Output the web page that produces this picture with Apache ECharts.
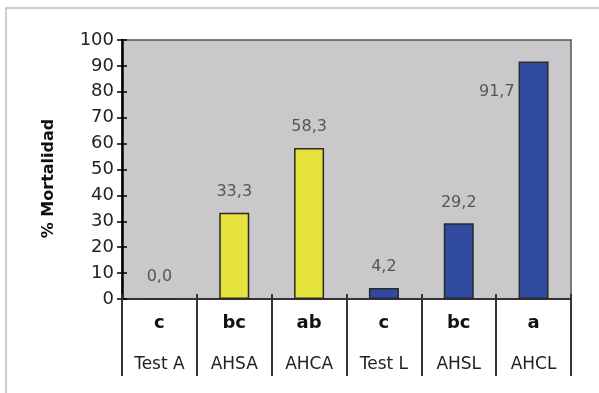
<!DOCTYPE html>
<html><head><meta charset="utf-8">
<script src="https://cdn.jsdelivr.net/npm/echarts@6/dist/echarts.min.js"></script>
<style>html,body{margin:0;padding:0;background:#fff}#c{width:599px;height:393px}</style>
</head><body><div id="c"></div>
<script>
const categories = ['Test A', 'AHSA', 'AHCA', 'Test L', 'AHSL', 'AHCL'];
const letters = ['c', 'bc', 'ab', 'c', 'bc', 'a'];
const values = [0.0, 33.3, 58.3, 4.2, 29.2, 91.7];
const groups = ['A', 'A', 'A', 'L', 'L', 'L'];
const valueLabels = ['0,0', '33,3', '58,3', '4,2', '29,2', '91,7'];
const yTicks = [0, 10, 20, 30, 40, 50, 60, 70, 80, 90, 100];

const groupColor = { A: '#e6e23c', L: '#2f4a9e' };
const FONT = 'DejaVu Sans';

const chart = echarts.init(document.getElementById('c'), null, { renderer: 'canvas' });
chart.setOption({
  animation: false,
  backgroundColor: '#fff',
  graphic: [{
    type: 'rect', shape: { x: 6, y: 8, width: 700, height: 500 },
    style: { fill: 'none', stroke: '#bdbdbd', lineWidth: 1.5 }, z: -10
  }],
  grid: {
    left: 122, right: 28, top: 40, bottom: 94,
    show: true, backgroundColor: '#c9c9cb', borderColor: '#555', borderWidth: 1.5
  },
  xAxis: [{
    type: 'category', data: categories,
    axisLine: { lineStyle: { color: '#333', width: 2 } },
    axisTick: { show: true, length: 77, lineStyle: { color: '#333', width: 2 } },
    axisLabel: {
      margin: 4, interval: 0,
      formatter: (v, i) => '{l|' + letters[i] + '}\n{n|' + v + '}',
      rich: {
        l: { fontFamily: FONT, fontWeight: 'bold', fontSize: 18, color: '#111', lineHeight: 41 },
        n: { fontFamily: FONT, fontSize: 17, color: '#222', lineHeight: 41 }
      }
    }
  }, {
    type: 'category', data: categories, position: 'bottom', offset: 0,
    axisLine: { show: false },
    axisTick: { show: true, inside: true, length: 5, lineStyle: { color: '#333', width: 2 } },
    axisLabel: { show: false }
  }],
  yAxis: [{
    type: 'value', min: 0, max: 100, interval: 10,
    name: '% Mortalidad', nameLocation: 'middle', nameGap: 65,
    nameTextStyle: { fontFamily: FONT, fontWeight: 'bold', fontSize: 16, color: '#111',
      padding: [0, 18, 0, 0] },
    axisLine: { show: true, lineStyle: { color: '#000', width: 2.5 } },
    axisTick: { show: true, length: 5, lineStyle: { color: '#000', width: 1.5 } },
    axisLabel: { fontFamily: FONT, fontSize: 18, color: '#222', margin: 8,
      formatter: v => yTicks.includes(v) ? String(v) : '' },
    splitLine: { show: false }
  }, {
    type: 'value', min: 0, max: 100, interval: 10, position: 'left', offset: 0,
    axisLine: { show: false },
    axisTick: { show: true, inside: true, length: 5, lineStyle: { color: '#000', width: 1.5 } },
    axisLabel: { show: false }, splitLine: { show: false }
  }],
  series: [{
    type: 'bar', barWidth: 30, xAxisIndex: 0, yAxisIndex: 0,
    data: values.map((v, i) => {
      const d = {
        value: v,
        itemStyle: { color: groupColor[groups[i]], borderColor: '#2a2a2a', borderWidth: 1.5 },
        label: { show: true, formatter: valueLabels[i], position: 'top', distance: 13,
          fontFamily: FONT, fontSize: 16, color: '#555' }
      };
      if (i === values.length - 1) {
        d.label.position = [-4, 30];
        d.label.align = 'right';
        d.label.verticalAlign = 'middle';
      }
      return d;
    })
  }]
});
</script></body></html>
